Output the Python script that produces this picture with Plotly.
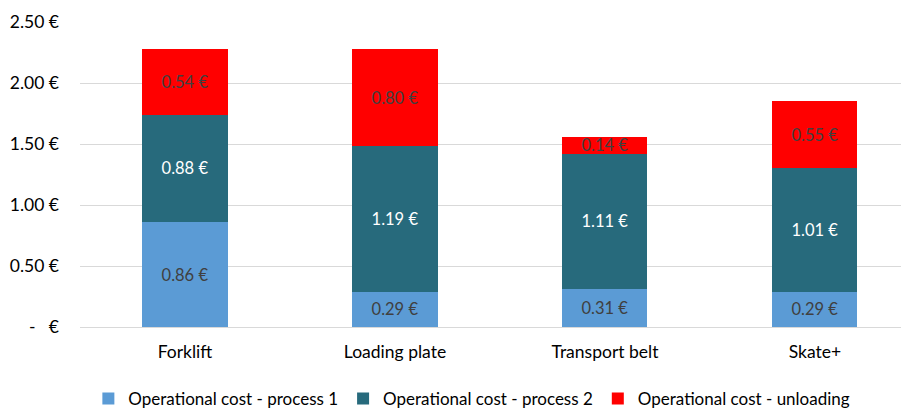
import plotly.graph_objects as go

categories = ["Forklift", "Loading plate", "Transport belt", "Skate+"]
process_1 = [0.86, 0.29, 0.31, 0.29]
process_2 = [0.88, 1.19, 1.11, 1.01]
unloading = [0.54, 0.80, 0.14, 0.55]

tick_vals = [0, 0.5, 1.0, 1.5, 2.0, 2.5]
tick_text = ["-   €", "0.50 €", "1.00 €", "1.50 €", "2.00 €", "2.50 €"]

FONT = "Lato, Carlito, Calibri, sans-serif"

series = [
    ("Operational cost - process 1", process_1, "#5B9BD5", "#404040"),
    ("Operational cost - process 2", process_2, "#276A7C", "#FFFFFF"),
    ("Operational cost - unloading", unloading, "#FF0000", "#404040"),
]

fig = go.Figure()
for name, vals, color, txt in series:
    fig.add_trace(go.Bar(
        x=categories, y=vals, name=name,
        marker=dict(color=color, line=dict(width=0)),
        width=0.405,
        texttemplate="%{y:.2f} €", textposition="inside",
        insidetextanchor="middle", textangle=0,
        textfont=dict(color=txt, size=16.5, family=FONT),
        cliponaxis=False,
    ))

# page has an 8px body margin, so margins are shifted by that amount
fig.update_layout(
    barmode="stack",
    width=909, height=410,
    margin=dict(l=72, r=0, t=14, b=91, autoexpand=False),
    plot_bgcolor="white", paper_bgcolor="white",
    font=dict(family=FONT, size=17.5, color="#404040"),
    showlegend=True,
    legend=dict(
        orientation="h", x=0.01, xanchor="left",
        y=-0.236, yanchor="middle", font=dict(size=17, color="#000000"),
        traceorder="normal", itemwidth=30,
    ),
    uniformtext=dict(minsize=10, mode="show"),
)
fig.update_xaxes(range=[-0.5, 3.486], showgrid=False, showline=False, ticks="",
                 tickangle=0, automargin=False, ticklabelstandoff=12,
                 tickfont=dict(size=17.5, color="#000000"))
fig.update_yaxes(range=[0, 2.5], tickvals=tick_vals, ticktext=tick_text,
                 showgrid=True, gridcolor="#D9D9D9", gridwidth=1,
                 zeroline=True, zerolinecolor="#D9D9D9", zerolinewidth=1,
                 ticks="", ticklabelstandoff=20, automargin=False,
                 tickfont=dict(size=17.5, color="#000000"))

fig.write_html("out.html")
